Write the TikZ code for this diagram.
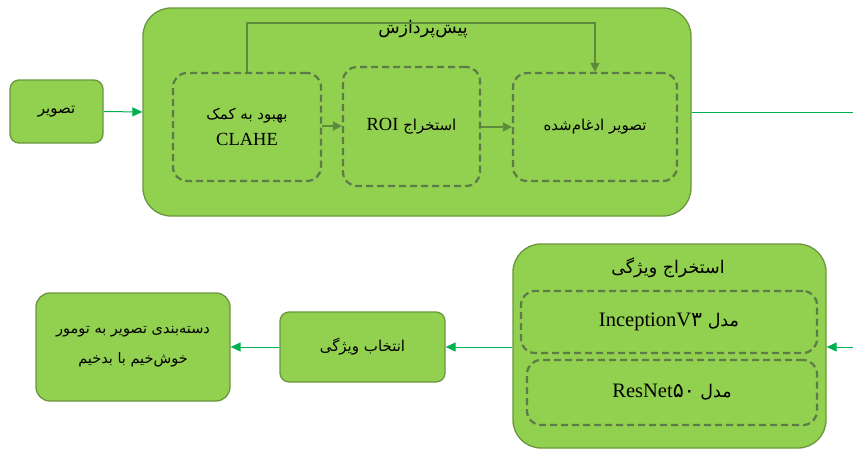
\documentclass[tikz,border=0pt]{standalone}
\usepackage{fontspec}
\setmainfont{Liberation Serif}
\newfontfamily\fa[Script=Arabic]{DejaVu Sans}
\newfontfamily\lat{Liberation Serif}
\TeXXeTstate=1
\usetikzlibrary{arrows.meta}
\definecolor{boxfill}{HTML}{92D050}
\definecolor{boxline}{HTML}{6A963F}
\definecolor{dashline}{HTML}{5C7B48}
\definecolor{innerarrow}{HTML}{5E8A3C}
\definecolor{conn}{HTML}{00B050}
\begin{document}
\begin{tikzpicture}[x=1pt,y=-1pt,
  solidbox/.style={draw=boxline,fill=boxfill,line width=1.3pt,rounded corners=9pt,inner sep=0pt,align=center},
  bigbox/.style={draw=boxline,fill=boxfill,line width=1.3pt,rounded corners=28pt,inner sep=0pt},
  dashbox/.style={draw=dashline,dash pattern=on 7pt off 4pt,line width=2.2pt,rounded corners=14pt,inner sep=0pt,align=center},
  inarrow/.style={draw=innerarrow,line width=1.4pt,-{Triangle[length=9pt,width=9pt]}},
  greenarrow/.style={draw=conn,line width=1pt,-{Triangle[length=10pt,width=9pt]}},
  greenline/.style={draw=conn,line width=1pt},
  txt/.style={font=\fontsize{15}{26}\selectfont},
  bigtxt/.style={font=\fontsize{17.5}{24}\selectfont}]
\useasboundingbox (0,0) rectangle (853,450);
% preprocessing
\node[bigbox,minimum width=548pt,minimum height=208pt] (pre) at (417,112) {};
\node[bigtxt] (pretitle) at (423,29) {\fa\beginR پیش^^^^200cپردازش\endR};
\node[solidbox,minimum width=93pt,minimum height=63pt,txt] (img) at (56.5,111.5) {\fa\beginR تصویر\endR};
\node[dashbox,minimum width=148pt,minimum height=108pt,txt] (clahe) at (247,127) {{\fa\beginR بهبود به کمک\endR}\\\lat\fontsize{18.5}{26}\selectfont CLAHE};
\node[dashbox,minimum width=137pt,minimum height=119pt,txt] (roi) at (411.5,126.5) {\beginR\fa استخراج \lat\fontsize{18.5}{26}\selectfont\beginL ROI\endL\endR};
\node[dashbox,minimum width=164pt,minimum height=108pt,txt] (merged) at (595,127) {\fa\beginR تصویر ادغام^^^^200cشده\endR};
\coordinate (topright) at (595,23);
\draw[inarrow] (clahe.north) |- (topright) -- (merged.north);
\draw[inarrow] (clahe.east |- 0,126) -- (roi.west |- 0,126);
\draw[inarrow] (roi.east |- 0,127) -- (merged.west |- 0,127);
\draw[greenarrow] (img.east) -- (pre.west);
\coordinate (edgeA) at (853,112);
\draw[greenline] (pre.east) -- (edgeA);
% feature extraction
\node[bigbox,minimum width=313pt,minimum height=204pt] (fe) at (669.5,346) {};
\node[bigtxt] (fetitle) at (668,268) {\fa\beginR استخراج ویژگی\endR};
\node[dashbox,minimum width=296pt,minimum height=62pt,bigtxt] (inc) at (669,322) {\beginR\fa مدل \lat\fontsize{20.5}{24}\selectfont\beginL InceptionV{\fa ۳}\endL\endR};
\node[dashbox,minimum width=290pt,minimum height=65pt,bigtxt] (res) at (672,392.5) {\beginR\fa مدل \lat\fontsize{20.5}{24}\selectfont\beginL ResNet{\fa ۵۰}\endL\endR};
\coordinate (edgeB) at (853,347);
\draw[greenarrow] (edgeB) -- (fe.east |- edgeB);
\node[solidbox,minimum width=165pt,minimum height=70pt,txt] (sel) at (362.5,347) {\fa\beginR انتخاب ویژگی\endR};
\node[solidbox,minimum width=194pt,minimum height=108pt,rounded corners=14pt,txt,font=\fontsize{14.5}{30}\selectfont] (cls) at (133,347) {\fa\beginR دسته^^^^200cبندی تصویر به تومور\endR\\\fa\beginR خوش^^^^200cخیم با بدخیم\endR};
\draw[greenarrow] (fe.west |- sel) -- (sel.east);
\draw[greenarrow] (sel.west) -- (cls.east);
\end{tikzpicture}
\end{document}
